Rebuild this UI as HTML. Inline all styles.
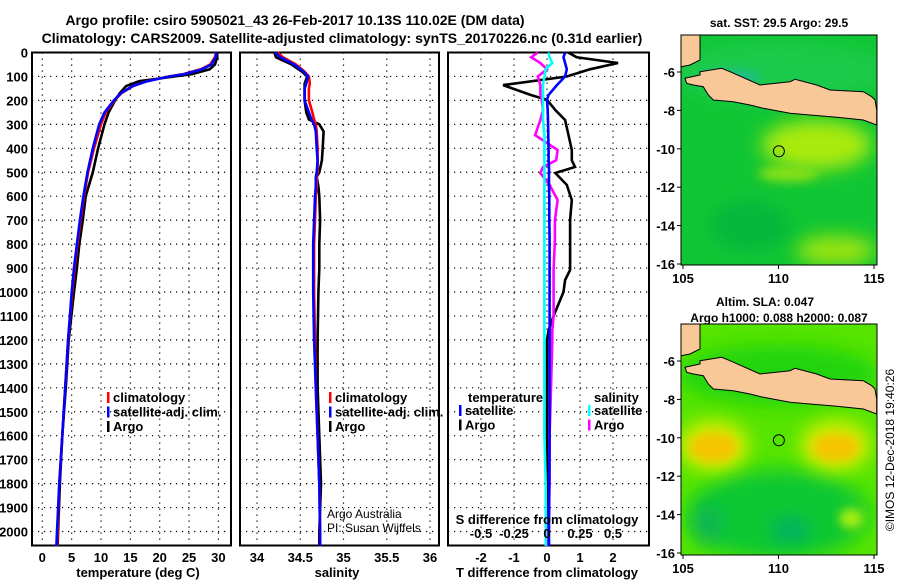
<!DOCTYPE html>
<html><head><meta charset="utf-8"><style>
html,body{margin:0;padding:0;background:#fff;}
svg{display:block;font-family:"Liberation Sans",Arial,sans-serif;}
.t{font-weight:bold;font-size:13px;}
</style></head><body>
<svg id="c" width="900" height="580" viewBox="0 0 900 580">
<text x="295" y="25" text-anchor="middle" font-size="14" font-weight="bold">Argo profile: csiro 5905021_43 26-Feb-2017 10.13S 110.02E (DM data)</text>
<text x="342" y="43" text-anchor="middle" font-size="14" font-weight="bold">Climatology: CARS2009. Satellite-adjusted climatology: synTS_20170226.nc (0.31d earlier)</text>
<defs>
<filter id="bl" x="-50%" y="-50%" width="200%" height="200%"><feGaussianBlur stdDeviation="9"/></filter>
<filter id="bl2" x="-50%" y="-50%" width="200%" height="200%"><feGaussianBlur stdDeviation="5"/></filter>
<clipPath id="m1"><rect x="681" y="35" width="196" height="230"/></clipPath>
<clipPath id="m2"><rect x="681" y="324" width="196" height="231"/></clipPath>
</defs>
<g id="maps"></g>
<g id="plots"></g>
<text transform="translate(894,450) rotate(-90)" text-anchor="middle" font-size="12">©IMOS 12-Dec-2018 19:40:26</text>
</svg>
<script>
// ---- data ----
const depthTicks=[0,100,200,300,400,500,600,700,800,900,1000,1100,1200,1300,1400,1500,1600,1700,1800,1900,2000];
const tempTicks=[0,5,10,15,20,25,30];
const salTicks=[34,34.5,35,35.5,36];
const salTickLabels=["34","34.5","35","35.5","36"];
const tdTicks=[-2,-1,0,1,2];
const sdTicks=[-0.5,-0.25,0,0.25,0.5];
const sdTickLabels=["-0.5","-0.25","0","0.25","0.5"];
const tDepth=[0,20,50,70,90,100,120,140,170,200,250,300,400,500,600,700,800,900,1000,1200,1400,1600,1800,2000,2060];
const tClim=[29.6,29.4,28.6,27,24,21.5,17.8,15.5,13.5,12.3,10.8,10,8.8,7.8,7.1,6.5,6,5.5,5.1,4.4,3.9,3.4,2.9,2.6,2.5];
const tSat=[29.7,29.5,28.8,27.2,24.2,21.6,17.9,15.4,13.4,12.2,10.6,9.7,8.6,7.7,7.0,6.4,5.9,5.4,5.0,4.4,3.9,3.4,2.9,2.5,2.4];
const tArgo=[29.8,29.8,29.4,28.5,25.5,22.5,16.5,14.3,13.2,12.4,11.3,10.6,9.5,8.6,7.4,6.9,6.3,5.9,5.4,4.5,4.0,3.4,3.0,2.7,2.6];
const sDepth=[0,20,50,80,100,130,150,200,250,280,300,330,400,450,500,520,560,600,700,800,900,1000,1200,1400,1600,1800,2000,2060];
const sClim=[34.24,34.3,34.45,34.55,34.6,34.61,34.6,34.6,34.64,34.66,34.68,34.69,34.7,34.7,34.7,34.69,34.69,34.68,34.67,34.66,34.66,34.66,34.67,34.68,34.7,34.72,34.73,34.73];
const sSat=[34.21,34.27,34.43,34.54,34.59,34.57,34.55,34.55,34.6,34.63,34.66,34.68,34.69,34.7,34.69,34.68,34.68,34.67,34.66,34.65,34.65,34.65,34.66,34.68,34.7,34.72,34.73,34.73];
const sArgo=[34.2,34.22,34.4,34.52,34.58,34.55,34.55,34.55,34.57,34.6,34.72,34.77,34.76,34.75,34.72,34.69,34.71,34.72,34.73,34.72,34.72,34.71,34.7,34.7,34.72,34.74,34.72,34.72];
const dDepth=[0,20,44,70,100,136,177,198,240,282,345,407,450,478,503,553,616,700,783,908,950,1000,1050,1100,1160,1200,1400,1600,1800,2000,2060];
const dTArgo=[0.64,0.9,2.15,1.3,0.6,-1.33,-0.5,0,0.25,0.55,0.65,0.75,0.75,0.85,0.25,0.6,0.75,0.7,0.7,0.7,0.55,0.5,0.35,0.2,0.05,0,0,0,0,0.05,0.05];
const dTSat=[0.55,0.5,0.55,0.6,0.55,0.3,0.05,0,0.02,0.03,0.04,0.05,0.05,0.06,0.06,0.06,0.07,0.07,0.08,0.08,0.08,0.08,0.08,0.08,0.08,0.08,0.08,0.08,0.07,0.06,0.06];
const dSArgo=[-0.07,-0.12,-0.05,0,-0.07,-0.05,-0.05,-0.04,-0.03,-0.05,-0.09,0.08,0.07,-0.03,-0.05,0.02,0.08,0.06,0.06,0.05,0.05,0.05,0.05,0.05,0.04,0.04,0.03,0.02,0.02,0.01,0.01];
const dSSat=[0.01,0.02,0.04,-0.01,-0.02,-0.03,-0.03,-0.03,-0.03,-0.03,-0.02,-0.02,-0.02,-0.02,-0.02,-0.02,-0.02,-0.02,-0.02,-0.02,-0.02,-0.02,-0.02,-0.02,-0.02,-0.02,-0.02,-0.02,-0.01,-0.01,-0.01];
const lonTicks=[105,110,115];
const latTicks=[-6,-8,-10,-12,-14,-16];

const NS="http://www.w3.org/2000/svg";
function mk(tag,attrs,parent,txt){const e=document.createElementNS(NS,tag);for(const k in attrs)e.setAttribute(k,attrs[k]);if(txt!==undefined)e.textContent=txt;parent.appendChild(e);return e;}
const plots=document.getElementById('plots');
const TOP=52.5,BOT=545.5;
const yD=d=>TOP+d*0.2395;
function panel(name,x0,x1,xs,xticks,xlabels,gridX,labelTicks){
  const g=mk('g',{},plots);
  
  
  for(const d of depthTicks){const l=mk('line',{x1:x0,x2:x1,y1:yD(d),y2:yD(d),stroke:'#000','stroke-width':1.2,'stroke-dasharray':'1.2,4.8'},g);
    }
  for(const v of gridX){const l=mk('line',{x1:xs(v),x2:xs(v),y1:TOP,y2:BOT,stroke:'#000','stroke-width':1.2,'stroke-dasharray':'1.2,4.8'},g);
    }
  const r=mk('rect',{x:x0,y:TOP,width:x1-x0,height:BOT-TOP,fill:'none',stroke:'#000','stroke-width':2},g);
  
  if(labelTicks){xticks.forEach((v,i)=>{const t=mk('text',{x:xs(v),y:562,'text-anchor':'middle',class:'t'},g,xlabels[i]);
    });}
  return g;
}
function line(g,xs,vals,depths,color,name,w){
  const pts=vals.map((v,i)=>xs(v).toFixed(1)+','+yD(depths[i]).toFixed(1)).join(' ');
  const p=mk('polyline',{points:pts,fill:'none',stroke:color,'stroke-width':w||2.6,'stroke-linejoin':'miter'},g);
  
}
function legend(g,x,y,items){
  items.forEach((it,i)=>{
    const m=mk('rect',{x:x,y:y+i*14.5-11,width:2.5,height:11,fill:it[1]},g);
    
    const t=mk('text',{x:x+6,y:y+i*14.5-1,class:'t'},g,it[0]);
    
  });
}
depthTicks.forEach(d=>{const t=mk('text',{x:28,y:yD(d)+5,'text-anchor':'end',class:'t'},plots,String(d));
  });
// panel 1 temperature
const xT=v=>42.3+v*5.87;
const g1=panel('temperature-panel',32,231,xT,tempTicks,tempTicks.map(String),tempTicks,true);
line(g1,xT,tArgo,tDepth,'#000','argo-temperature-line');
line(g1,xT,tClim,tDepth,'#f00','climatology-temperature-line');
line(g1,xT,tSat,tDepth,'#00f','satellite-temperature-line');
legend(g1,107,403,[['climatology','#f00'],['satellite-adj. clim.','#00f'],['Argo','#000']]);
let tt=mk('text',{x:138,y:577,'text-anchor':'middle',class:'t'},g1,'temperature (deg C)');

// panel 2 salinity
const xS=v=>257+(v-34)*86.5;
const g2=panel('salinity-panel',240,439,xS,salTicks,salTickLabels,salTicks,true);
line(g2,xS,sArgo,sDepth,'#000','argo-salinity-line');
line(g2,xS,sClim,sDepth,'#f00','climatology-salinity-line');
line(g2,xS,sSat,sDepth,'#00f','satellite-salinity-line');
legend(g2,329,403,[['climatology','#f00'],['satellite-adj. clim.','#00f'],['Argo','#000']]);
tt=mk('text',{x:337,y:577,'text-anchor':'middle',class:'t'},g2,'salinity');

tt=mk('text',{x:327,y:518,'font-size':'12'},g2,'Argo Australia');

tt=mk('text',{x:327,y:532,'font-size':'12'},g2,'PI: Susan Wijffels');

// panel 3 differences
const xTD=v=>547+v*33;
const xSD=v=>547+v*132;
const g3=panel('difference-panel',448,649,xTD,tdTicks,tdTicks.map(String),tdTicks,true);
line(g3,xTD,dTArgo,dDepth,'#000','argo-t-difference-line');
line(g3,xSD,dSArgo,dDepth,'#f0f','argo-s-difference-line');
line(g3,xTD,dTSat,dDepth,'#00f','satellite-t-difference-line');
line(g3,xSD,dSSat,dDepth,'#0ff','satellite-s-difference-line');
tt=mk('text',{x:468,y:402,class:'t'},g3,'temperature');

tt=mk('text',{x:594,y:402,class:'t'},g3,'salinity');

legend(g3,459,416,[['satellite','#00f'],['Argo','#000']]);
legend(g3,588,416,[['satellite','#0ff'],['Argo','#f0f']]);
tt=mk('text',{x:547,y:524,'text-anchor':'middle',class:'t'},g3,'S difference from climatology');

sdTicks.forEach((v,i)=>{const t=mk('text',{x:xSD(v),y:538,'text-anchor':'middle',class:'t'},g3,sdTickLabels[i]);
  });
tt=mk('text',{x:547,y:577,'text-anchor':'middle',class:'t'},g3,'T difference from climatology');


// ---- maps ----
const maps=document.getElementById('maps');
const lonX=l=>683+(l-105)*19.1;
const java="700,71.7 721.7,68.3 730,71.7 760,85 790,81.7 795,79.3 816.7,85 830,90 863.3,91.7 871.7,96.7 875,100 876.7,110 876.7,125 863.3,120 836.7,117.3 810,115 790,113.3 763.3,108.3 750,105 733.3,101.7 713.3,100 708.3,95 703.3,86.7 693.3,85 686.7,83.3 685,78.3 700,75";
const sumatra="681,35 700,35 700,60 690,65 681,66.7";
function map(name,yoff,clip,top,title){
  const g=mk('g',{},maps);
  
  const c=mk('g',{'clip-path':'url(#'+clip+')'},g);
  const latY=l=>72+yoff+(-6-l)*19.2;
  if(top){
    mk('rect',{x:681,y:35,width:196,height:230,fill:'#11c634'},c);
    mk('ellipse',{cx:lonX(110),cy:latY(-6),rx:110,ry:30,fill:'#22cc55',filter:'url(#bl)',opacity:0.7},c);
    mk('ellipse',{cx:lonX(112),cy:latY(-9.8),rx:55,ry:25,fill:'#aaea10',filter:'url(#bl)'},c);
    mk('ellipse',{cx:lonX(110.5),cy:latY(-11.3),rx:30,ry:8,fill:'#88e018',filter:'url(#bl2)'},c);
    mk('ellipse',{cx:lonX(113),cy:latY(-15.3),rx:40,ry:15,fill:'#99e410',filter:'url(#bl)'},c);
    mk('ellipse',{cx:lonX(108.5),cy:latY(-14),rx:40,ry:25,fill:'#05b040',filter:'url(#bl)',opacity:0.7},c);
    mk('ellipse',{cx:lonX(107.5),cy:latY(-6.3),rx:30,ry:8,fill:'#22b8a0',filter:'url(#bl2)',opacity:0.8},c);
  } else {
    mk('rect',{x:681,y:324,width:196,height:231,fill:'#55e400'},c);
    mk('ellipse',{cx:lonX(110),cy:latY(-14),rx:90,ry:45,fill:'#11c830',filter:'url(#bl)'},c);
    mk('ellipse',{cx:lonX(110.6),cy:latY(-14.8),rx:20,ry:12,fill:'#00b068',filter:'url(#bl)'},c);
    mk('ellipse',{cx:lonX(106.3),cy:latY(-14.5),rx:15,ry:20,fill:'#11b060',filter:'url(#bl)',opacity:0.8},c);
    mk('ellipse',{cx:lonX(110),cy:latY(-6.7),rx:100,ry:30,fill:'#22d410',filter:'url(#bl)'},c);
    mk('ellipse',{cx:lonX(106.6),cy:latY(-10.4),rx:36,ry:26,fill:'#ccee00',filter:'url(#bl)'},c);
    mk('ellipse',{cx:lonX(113),cy:latY(-10.4),rx:36,ry:26,fill:'#ccee00',filter:'url(#bl)'},c);
    mk('ellipse',{cx:lonX(106.6),cy:latY(-10.5),rx:24,ry:15,fill:'#f5c400',filter:'url(#bl2)'},c);
    mk('ellipse',{cx:lonX(113),cy:latY(-10.5),rx:24,ry:14,fill:'#f5c400',filter:'url(#bl2)'},c);
    mk('ellipse',{cx:lonX(113.8),cy:latY(-14.2),rx:12,ry:10,fill:'#aaee10',filter:'url(#bl2)'},c);
  }
  const land=mk('g',{transform:'translate(0,'+yoff+')'},c);
  let p=mk('polygon',{points:java,fill:'#f8c898',stroke:'#000','stroke-width':1},land);
  
  p=mk('polygon',{points:sumatra,fill:'#f8c898',stroke:'#000','stroke-width':1},land);
  
  const ci=mk('circle',{cx:lonX(110.02),cy:latY(-10.13),r:5.5,fill:'none',stroke:'#000','stroke-width':1},g);
  
  const fr=mk('rect',{x:681,y:top?35:324,width:196,height:top?230:231,fill:'none',stroke:'#000','stroke-width':1},g);
  
  latTicks.forEach(l=>{mk('line',{x1:677,x2:681,y1:latY(l),y2:latY(l),stroke:'#000'},g);
    const t=mk('text',{x:675,y:latY(l)+5,'text-anchor':'end',class:'t'},g,String(l));
    });
  const by=top?265:555;
  lonTicks.forEach(l=>{mk('line',{x1:lonX(l),x2:lonX(l),y1:by,y2:by+4,stroke:'#000'},g);
    const t=mk('text',{x:lonX(l),y:by+18,'text-anchor':'middle',class:'t'},g,String(l));
    });
  title.forEach((s,i)=>{const t=mk('text',{x:top?779:[765,779][i],y:(top?27:306+i*16),'text-anchor':'middle','font-size':'12','font-weight':'bold'},g,s);
    });
}
map('sst-map',0,'m1',true,['sat. SST: 29.5 Argo: 29.5']);
map('sla-map',289,'m2',false,['Altim. SLA: 0.047','Argo h1000: 0.088 h2000: 0.087']);
</script>
</body></html>
